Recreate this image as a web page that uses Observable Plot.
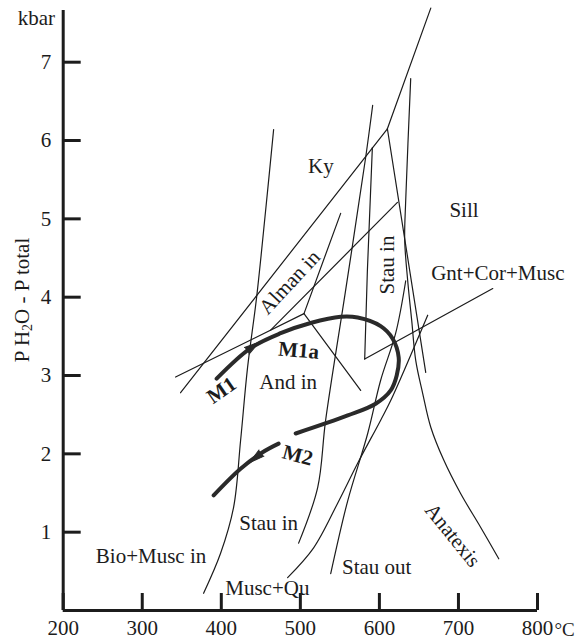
<!DOCTYPE html>
<html><head><meta charset="utf-8">
<script src="https://cdn.jsdelivr.net/npm/d3@7"></script>
<script src="https://cdn.jsdelivr.net/npm/@observablehq/plot@0.6"></script>
<style>body{margin:0;background:#fff}</style>
</head><body><div id="chart"></div>
<script>
// Axis ticks
const xTicks = [200, 300, 400, 500, 600, 700, 800];
const yTicks = [1, 2, 3, 4, 5, 6, 7];

// Reaction / boundary lines: [T (°C), P (kbar)]
const bioMuscIn = [[377.6,0.22],[399.1,0.73],[415.6,1.32],[424.4,2.17],[433.2,3.10],[444.7,4.00],[456.1,5.11],[466.2,6.14]];
const kyAnd = [[348.5,2.78],[610.1,6.15]];
const kySill = [[610.1,6.15],[665.0,7.69]];
const andSill = [[610.1,6.15],[658.6,3.04]];
const stauInUpper = [[591.1,5.91],[584.8,4.34],[581.4,3.21]];
const gntCorMusc = [[581.4,3.21],[743.4,4.11]];
const stauInLower = [[591.5,6.45],[582.7,5.79],[557.3,4.09],[532.0,2.43],[521.9,1.57],[497.8,0.86]];
const shallowLine = [[342.2,2.98],[504.6,3.79]];
const almanUp = [[504.6,3.79],[551.0,5.07]];
const almanDown = [[504.6,3.79],[576.3,2.81]];
const almanIn = [[462.4,3.58],[622.8,5.21]];
const anatexis = [[639.6,6.79],[633.3,5.24],[632.0,4.73],[635.8,4.21],[640.9,3.70],[646.0,3.19],[654.8,2.77],[665.0,2.34],[681.4,1.92],[702.9,1.49],[728.2,1.06],[751.0,0.66]];
const stauOut = [[538.4,0.47],[559.9,1.40],[585.2,2.26],[601.6,2.94],[620.6,3.54],[633.3,4.21]];
const muscQu = [[483.9,0.42],[516.8,0.80],[547.2,1.37],[572.5,1.88],[601.6,2.43],[614.3,2.68],[661.1,3.77]];

// P-T paths
const pathM1 = [[394.1,2.96],[437.1,3.35],[475.1,3.54],[513.0,3.67],[551.0,3.75],[572.5,3.74],[601.6,3.63],[616.8,3.47],[624.4,3.23],[621.9,3.00],[614.3,2.81],[595.3,2.64],[559.9,2.49],[494.1,2.26]];
const pathM2 = [[472.5,2.13],[452.3,2.02],[424.4,1.81],[390.3,1.47]];
const arrows = [{t:440, p:3.37, angle:55}, {t:443.4, p:1.95, angle:231}];

// Field labels
const labels = [
  {text:"Ky", t:526, p:5.67, rot:0},
  {text:"Sill", t:707, p:5.11, rot:0},
  {text:"Alman in", t:486.5, p:4.19, rot:-47},
  {text:"Stau in", t:609.8, p:4.41, rot:-90},
  {text:"Gnt+Cor+Musc", t:749.8, p:4.30, rot:0},
  {text:"And in", t:484.5, p:2.92, rot:0},
  {text:"Stau in", t:459.9, p:1.12, rot:0},
  {text:"Bio+Musc in", t:311.1, p:0.69, rot:0},
  {text:"Musc+Qu", t:458.2, p:0.28, rot:0},
  {text:"Stau out", t:596.6, p:0.55, rot:0},
  {text:"Anatexis", t:692.8, p:0.96, rot:51}
];
const pathLabels = [
  {text:"M1", t:400.4, p:2.81, rot:-35},
  {text:"M1a", t:497.8, p:3.32, rot:5},
  {text:"M2", t:496.6, p:1.98, rot:15}
];

const FONT = "'Liberation Serif', 'Times New Roman', serif";
const ink = "#1c1c1c";
const FS = 21;
const thin = {x: d => d[0], y: d => d[1], stroke: ink, strokeWidth: 1.2};
const thick = {x: d => d[0], y: d => d[1], stroke: "#2a2a2a", strokeWidth: 4, strokeLinecap: "round", curve: "catmull-rom"};

const plot = Plot.plot({
  width: 588, height: 639,
  marginLeft: 62.7, marginRight: 51, marginTop: 10, marginBottom: 29,
  x: {domain: [200, 800]},
  y: {domain: [0, 7.66]},
  style: {fontFamily: FONT, background: "white", color: ink},
  marks: [
    Plot.line(bioMuscIn, {...thin, curve: "catmull-rom"}),
    Plot.line(kyAnd, thin),
    Plot.line(kySill, thin),
    Plot.line(andSill, thin),
    Plot.line(stauInUpper, thin),
    Plot.line(gntCorMusc, thin),
    Plot.line(stauInLower, {...thin, curve: "catmull-rom"}),
    Plot.line(shallowLine, thin),
    Plot.line(almanUp, thin),
    Plot.line(almanDown, thin),
    Plot.line(almanIn, thin),
    Plot.line(anatexis, {...thin, curve: "catmull-rom"}),
    Plot.line(stauOut, {...thin, curve: "catmull-rom"}),
    Plot.line(muscQu, {...thin, curve: "catmull-rom"}),
    Plot.line(pathM1, thick),
    Plot.line(pathM2, thick),
    Plot.vector(arrows, {x: "t", y: "p", rotate: "angle", length: 15, r: 4, shape: "spike", anchor: "middle", fill: "#2a2a2a", stroke: "#2a2a2a", strokeWidth: 1}),
    Plot.text(labels, {x: "t", y: "p", text: "text", rotate: "rot", fontSize: FS, fill: ink}),
    Plot.text(pathLabels, {x: "t", y: "p", text: "text", rotate: "rot", fontSize: FS, fontWeight: "bold", fill: ink}),
    Plot.ruleY([0], {x1: 200, x2: 800, stroke: ink, strokeWidth: 3}),
    Plot.ruleX([200], {y1: 0, y2: 7.66, stroke: ink, strokeWidth: 3}),
    Plot.axisX(xTicks, {tickSize: -17, tickPadding: 27, strokeWidth: 3, fontSize: FS, tickFormat: d => String(d), label: null, stroke: ink, fill: ink}),
    Plot.axisY(yTicks, {tickSize: -18, tickPadding: 30, strokeWidth: 3, fontSize: FS, tickFormat: d => String(d), label: null, stroke: ink, fill: ink}),
    Plot.text(["°C"], {x: 800, y: 0, dx: 17, dy: 19, textAnchor: "start", fontSize: 19, fill: ink}),
    Plot.text(["kbar"], {x: 166, y: 7.56, fontSize: FS, fill: ink})
  ]
});

const svg = d3.select(plot);
const t = svg.append("text")
  .attr("transform", "translate(24,300) rotate(-90)")
  .attr("text-anchor", "middle")
  .attr("dominant-baseline", "middle")
  .attr("font-family", FONT)
  .attr("font-size", FS)
  .attr("fill", ink);
t.append("tspan").text("P H");
t.append("tspan").attr("font-size", 14).attr("dy", 5).text("2");
t.append("tspan").attr("dy", -5).text("O - P total");

document.getElementById("chart").appendChild(plot);
</script>
</body></html>
